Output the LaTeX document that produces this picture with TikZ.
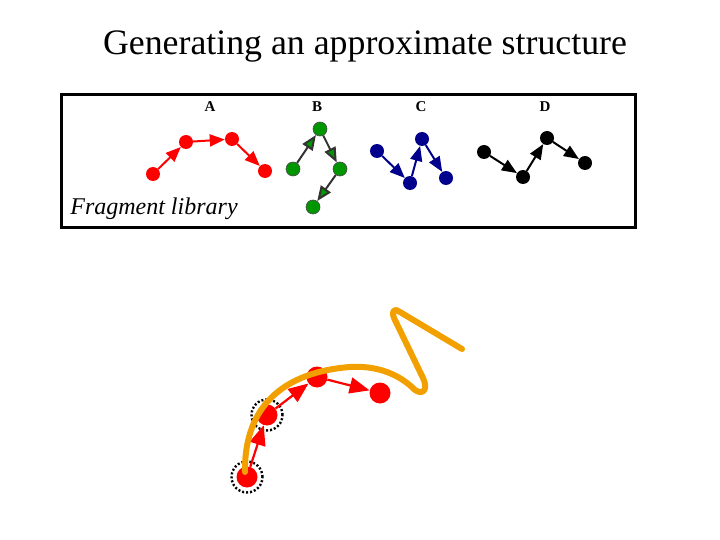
\documentclass[tikz,border=0pt]{standalone}
\usepackage{fontspec}
\setmainfont{Liberation Serif}
\usetikzlibrary{arrows.meta}
\definecolor{fragred}{RGB}{255,0,0}
\definecolor{fraggreen}{RGB}{0,150,0}
\definecolor{fragblue}{RGB}{0,0,140}
\definecolor{curveorange}{RGB}{242,160,0}
\tikzset{
  dot/.style={circle, inner sep=0pt, minimum size=14pt},
  reddot/.style={dot, fill=fragred},
  greendot/.style={dot, fill=fraggreen, draw=black!70, line width=0.6pt},
  bluedot/.style={dot, fill=fragblue},
  blackdot/.style={dot, fill=black},
  bigdot/.style={circle, inner sep=0pt, minimum size=21pt, fill=fragred},
  frag/.style={line width=2pt, -{Triangle[length=15pt,width=12pt]}},
  gfrag/.style={line width=2pt, black!80, -{Triangle[length=15pt,width=12pt,fill=fraggreen]}},
  bigfrag/.style={line width=2.2pt, -{Triangle[length=20pt,width=16pt]}},
  ring/.style={circle, draw=black, dash pattern=on 2pt off 2pt, line width=2.4pt, minimum size=31pt, inner sep=0pt},
  lab/.style={font=\fontsize{15}{15}\selectfont\bfseries}
}
\begin{document}
\begin{tikzpicture}[x=1pt,y=-1pt]
\useasboundingbox (0,0) rectangle (720,540);
% title
\node[font=\fontsize{35.8}{40}\selectfont] (title) at (365,47) {Generating an approximate structure};
% library box
\node[draw=black, line width=2.6pt, minimum width=574pt, minimum height=133pt, inner sep=0pt] (box) at (348.5,161) {};
\node[font=\fontsize{24}{27}\selectfont\itshape] (fl) at (154,209) {Fragment library};
\node[lab] (la) at (210,107) {A};
\node[lab] (lb) at (317,107) {B};
\node[lab] (lc) at (421,107) {C};
\node[lab] (ld) at (545,107) {D};
% A
\node[reddot] (a1) at (153,174) {};
\node[reddot] (a2) at (186,142) {};
\node[reddot] (a3) at (232,139) {};
\node[reddot] (a4) at (265,171) {};
\draw[frag, fragred] (a1) -- (a2);
\draw[frag, fragred] (a2) -- (a3);
\draw[frag, fragred] (a3) -- (a4);
% B
\node[greendot] (b1) at (293,169) {};
\node[greendot] (b2) at (320,129) {};
\node[greendot] (b3) at (340,169) {};
\node[greendot] (b4) at (313,207) {};
\draw[gfrag] (b1) -- (b2);
\draw[gfrag] (b2) -- (b3);
\draw[gfrag] (b3) -- (b4);
% C
\node[bluedot] (c1) at (377,151) {};
\node[bluedot] (c2) at (410,183) {};
\node[bluedot] (c3) at (422,139) {};
\node[bluedot] (c4) at (446,178) {};
\draw[frag, fragblue] (c1) -- (c2);
\draw[frag, fragblue] (c2) -- (c3);
\draw[frag, fragblue] (c3) -- (c4);
% D
\node[blackdot] (d1) at (484,152) {};
\node[blackdot] (d2) at (523,177) {};
\node[blackdot] (d3) at (547,138) {};
\node[blackdot] (d4) at (585,163) {};
\draw[frag, black] (d1) -- (d2);
\draw[frag, black] (d2) -- (d3);
\draw[frag, black] (d3) -- (d4);
% assembled structure
\node[bigdot] (n1) at (247,477) {};
\node[bigdot] (n2) at (267,415) {};
\node[bigdot] (n3) at (317,377) {};
\node[bigdot] (n4) at (380,393) {};
\node[ring] (r1) at (247,477) {};
\node[ring] (r2) at (267,415) {};
\draw[bigfrag, fragred] (n1) -- (n2);
\draw[bigfrag, fragred] (n2) -- (n3);
\draw[bigfrag, fragred] (n3) -- (n4);
% orange trace
\draw[curveorange, line width=6pt, line cap=round, line join=round]
  (245,472) .. controls (244,405) and (285,372) .. (350,367)
  .. controls (385,365) and (405,380) .. (415,390)
  .. controls (424,396) and (428,388) .. (423,378)
  -- (394,318) .. controls (391,310) and (395,308) .. (400,312)
  -- (462,349);
\end{tikzpicture}
\end{document}
